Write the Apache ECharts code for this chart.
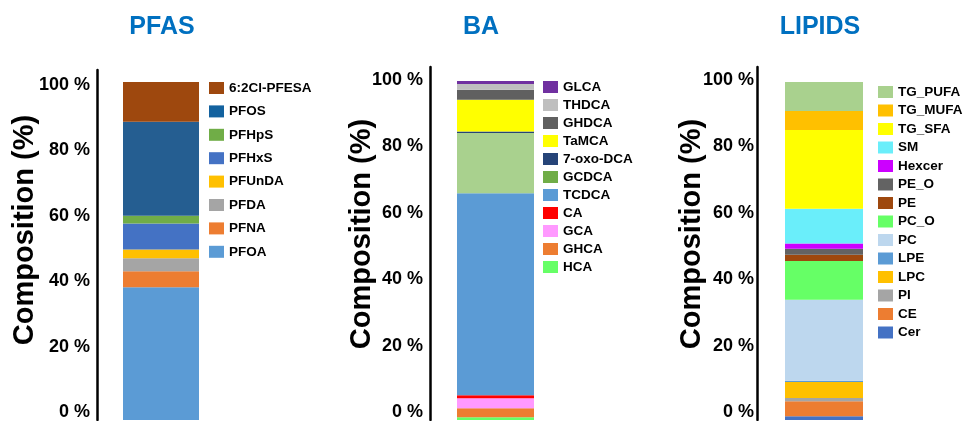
<!DOCTYPE html>
<html>
<head>
<meta charset="utf-8">
<script src="https://cdn.jsdelivr.net/npm/echarts@6/dist/echarts.min.js"></script>
<style>
  html, body { margin: 0; padding: 0; background: #fff; }
  #chart { width: 968px; height: 421px; }
</style>
</head>
<body>
<div id="chart"></div>
<script>
// data, bottom of stack first
const pfasNames = ["PFOA", "PFNA", "PFDA", "PFUnDA", "PFHxS", "PFHpS", "PFOS", "6:2Cl-PFESA"];
const pfasValues = [39.8, 4.7, 3.8, 2.6, 7.6, 2.3, 27.5, 11.7];

const baNames = ["HCA", "GHCA", "GCA", "CA", "TCDCA", "GCDCA", "7-oxo-DCA", "TaMCA", "GHDCA", "THDCA", "GLCA"];
const baValues = [1.7, 2.6, 2.9, 0.9, 59.1, 17.6, 0.4, 9.3, 2.9, 1.7, 0.9];

const lipidNames = ["Cer", "CE", "PI", "LPC", "LPE", "PC", "PC_O", "PE", "PE_O", "Hexcer", "SM", "TG_SFA", "TG_MUFA", "TG_PUFA"];
const lipidValues = [2.0, 4.4, 0.9, 4.7, 0.4, 23.7, 11.4, 1.8, 1.8, 1.5, 10.2, 23.1, 5.6, 8.5];

const tickValues = [0, 20, 40, 60, 80, 100];

// colours
const pfasColors = ["#5B9BD5", "#ED7D31", "#A5A5A5", "#FFC000", "#4472C4", "#70AD47", "#255E91", "#9E480E"];
const baColors = ["#66FF66", "#ED7D31", "#FF99FF", "#FF0000", "#5B9BD5", "#A9D18E", "#264478", "#FFFF00", "#606060", "#BFBFBF", "#7030A0"];
const lipidColors = ["#4472C4", "#ED7D31", "#A5A5A5", "#FFC000", "#5B9BD5", "#BDD7EE", "#66FF66", "#9E480E", "#636363", "#CC00FF", "#6AEEFA", "#FFFF00", "#FFC000", "#A9D18E"];
// legend swatches that differ from the bar fill
const legendColorFix = { "PFOS": "#13629F", "GCDCA": "#70AD47" };

const FONT = "'Liberation Sans', Arial, sans-serif";

// panel layout
const panels = [
	{ key: "pfas", title: "PFAS", names: pfasNames, values: pfasValues, colors: pfasColors,
	  gridLeft: 97, gridWidth: 128, gridTop: 70, labelMin: -2.44, labelMax: 104.57, barMin: 0.88, barMax: 103.5,
	  barWidth: 76, labelMargin: 7, titleX: 162, nameX: 25, nameY: 230, legendLeft: 209, legendTop: 81, legendGap: 9.4 },
	{ key: "ba", title: "BA", names: baNames, values: baValues, colors: baColors,
	  gridLeft: 430, gridWidth: 131, gridTop: 67, labelMin: -2.4, labelMax: 103.9, barMin: 0.87, barMax: 104.08,
	  barWidth: 77, labelMargin: 7, titleX: 481, nameX: 362, nameY: 234, legendLeft: 543, legendTop: 80, legendGap: 4 },
	{ key: "lipids", title: "LIPIDS", names: lipidNames, values: lipidValues, colors: lipidColors,
	  gridLeft: 757, gridWidth: 134, gridTop: 67, labelMin: -2.4, labelMax: 103.9, barMin: 0.88, barMax: 104.39,
	  barWidth: 78, labelMargin: 3, titleX: 820, nameX: 692, nameY: 234, legendLeft: 878, legendTop: 85, legendGap: 4.5 },
];

const chart = echarts.init(document.getElementById("chart"), null, { renderer: "canvas" });

const option = {
	animation: false,
	title: [],
	grid: [],
	xAxis: [],
	yAxis: [],
	legend: [],
	series: [],
	graphic: [],
};

panels.forEach((p, i) => {
	option.title.push({
		text: p.title,
		left: p.titleX,
		top: 15,
		textAlign: "center",
		padding: 0,
		textStyle: { color: "#0070C0", fontSize: 25, fontWeight: "bold", fontFamily: FONT },
	});

	option.grid.push({ left: p.gridLeft, width: p.gridWidth, top: p.gridTop, bottom: 0 });

	option.xAxis.push({
		type: "category",
		gridIndex: i,
		data: [p.title],
		show: false,
	});

	// visible axis: line + tick labels
	option.yAxis.push({
		type: "value",
		gridIndex: i,
		min: p.labelMin,
		max: p.labelMax,
		axisLine: { show: true, onZero: false, lineStyle: { color: "#000", width: 2.5 } },
		axisTick: { show: false },
		splitLine: { show: false },
		axisLabel: {
			customValues: tickValues,
			formatter: (v) => v + " %",
			margin: p.labelMargin,
			color: "#000",
			fontSize: 18,
			fontWeight: "bold",
			fontFamily: FONT,
		},
	});
	// hidden axis the bars are drawn on
	option.yAxis.push({
		type: "value",
		gridIndex: i,
		min: p.barMin,
		max: p.barMax,
		show: false,
		splitLine: { show: false },
	});

	p.names.forEach((name, j) => {
		option.series.push({
			name: name,
			type: "bar",
			stack: p.key,
			xAxisIndex: i,
			yAxisIndex: i * 2 + 1,
			barWidth: p.barWidth,
			data: [p.values[j]],
			itemStyle: { color: p.colors[j] },
		});
	});

	option.legend.push({
		orient: "vertical",
		left: p.legendLeft,
		top: p.legendTop,
		padding: 0,
		itemWidth: 15,
		itemHeight: 12,
		itemGap: p.legendGap,
		icon: "rect",
		selectedMode: false,
		textStyle: { color: "#000", fontSize: 13.5, fontWeight: "bold", fontFamily: FONT, lineHeight: 14 },
		data: p.names.slice().reverse().map((n) =>
			legendColorFix[n] ? { name: n, itemStyle: { color: legendColorFix[n] } } : { name: n }
		),
	});

	option.graphic.push({
		type: "text",
		x: p.nameX,
		y: p.nameY,
		rotation: Math.PI / 2,
		style: {
			text: "Composition (%)",
			fill: "#000",
			font: "bold 29px " + FONT,
			align: "center",
			verticalAlign: "middle",
		},
	});
});

chart.setOption(option);
</script>
</body>
</html>
